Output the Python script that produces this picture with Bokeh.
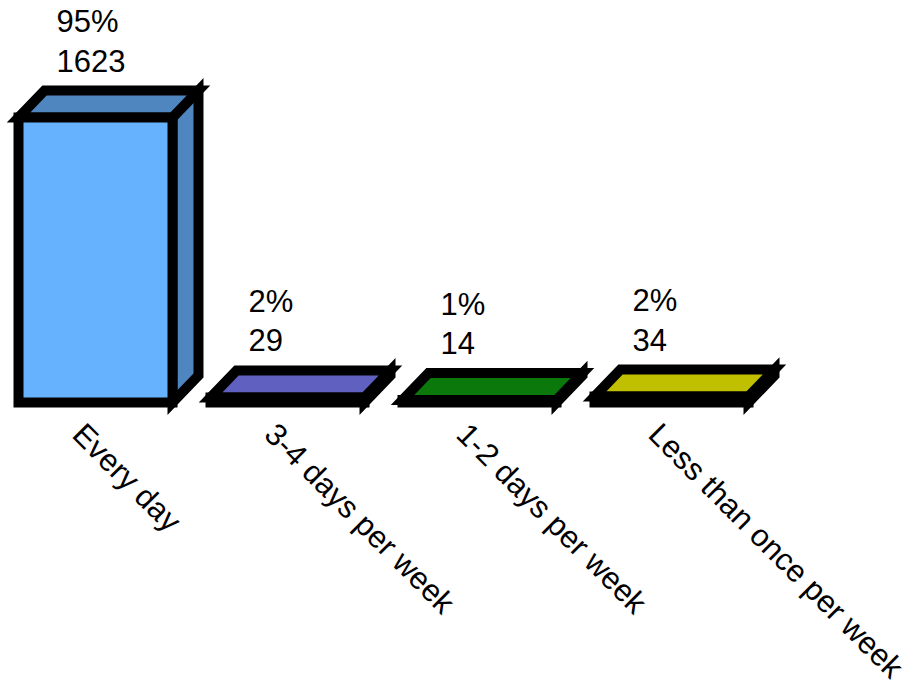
import math
from bokeh.plotting import figure
from bokeh.models import Range1d, ColumnDataSource
from bokeh.core.properties import value
from bokeh.embed import file_html
from bokeh.resources import INLINE

# ---- data ----
categories = ["Every day", "3-4 days per week", "1-2 days per week", "Less than once per week"]
counts = [1623, 29, 14, 34]
percents = ["95%", "2%", "1%", "2%"]
front_colors = ["#66B2FF", "#8080FF", "#0E9A0E", "#F0F000"]
shade_colors = ["#5086C0", "#6060C0", "#0A780A", "#C0C000"]

# ---- layout (pixels) ----
W, H = 909, 688
CAT_PX = 192.0          # distance between categories
BAR_PX = 154.0          # width of a bar's front face
DEPTH_X_PX, DEPTH_Y_PX = 26.0, 27.0
FIRST_CENTER_PX = 95.0  # centre of first bar, from canvas left
BASE_PX = 402.0         # baseline, from canvas top
COUNT_PX = 285.0 / max(counts)  # pixels per count

x_start = -FIRST_CENTER_PX / CAT_PX
x_end = (W - FIRST_CENTER_PX) / CAT_PX
y_end = BASE_PX / COUNT_PX
y_start = -(H - BASE_PX) / COUNT_PX

p = figure(width=W, height=H, output_backend="svg", toolbar_location=None,
           x_range=Range1d(x_start, x_end), y_range=Range1d(y_start, y_end),
           x_axis_type=None, y_axis_type=None, min_border=0)
p.grid.visible = False
p.outline_line_color = None
p.background_fill_color = "white"
p.border_fill_color = "white"

dx = DEPTH_X_PX / CAT_PX
dy = DEPTH_Y_PX / COUNT_PX
hw = BAR_PX / CAT_PX / 2

side_xs, side_ys, top_xs, top_ys, fr_xs, fr_ys = [], [], [], [], [], []
for i, v in enumerate(counts):
    side_xs.append([i + hw, i + hw + dx, i + hw + dx, i + hw])
    side_ys.append([0, dy, v + dy, v])
    top_xs.append([i - hw, i - hw + dx, i + hw + dx, i + hw])
    top_ys.append([v, v + dy, v + dy, v])
    fr_xs.append([i - hw, i + hw, i + hw, i - hw])
    fr_ys.append([0, 0, v, v])

LW = 10
p.patches(side_xs, side_ys, fill_color=shade_colors, line_color="black",
          line_width=LW, line_join="miter")
p.patches(top_xs, top_ys, fill_color=shade_colors, line_color="black",
          line_width=LW, line_join="miter")
p.patches(fr_xs, fr_ys, fill_color=front_colors, line_color="black",
          line_width=LW, line_join="miter")

# value labels
idx = list(range(len(counts)))
lab_x = [i - hw + 38 / CAT_PX for i in idx]
cnt_y = [v + dy + 30 / COUNT_PX for v in counts]
pct_y = [y + 39 / COUNT_PX for y in cnt_y]
src = ColumnDataSource(dict(x=lab_x, cy=cnt_y, py=pct_y,
                            cnt=[str(c) for c in counts], pct=percents))
common = dict(text_font=value("Liberation Sans"), text_font_size="31px",
              text_color="black", text_align="left", text_baseline="alphabetic")
p.text(x="x", y="cy", text="cnt", source=src, **common)
p.text(x="x", y="py", text="pct", source=src, **common)

# category labels (rotated)
cat_src = ColumnDataSource(dict(x=[i - 5 / CAT_PX for i in idx],
                                y=[-14 / COUNT_PX] * len(idx),
                                t=categories))
p.text(x="x", y="y", text="t", source=cat_src, angle=-math.pi / 4,
       text_font=value("Liberation Sans"), text_font_size="31px",
       text_color="black", text_align="left", text_baseline="top")

open("out.html", "w").write(file_html(p, INLINE))
